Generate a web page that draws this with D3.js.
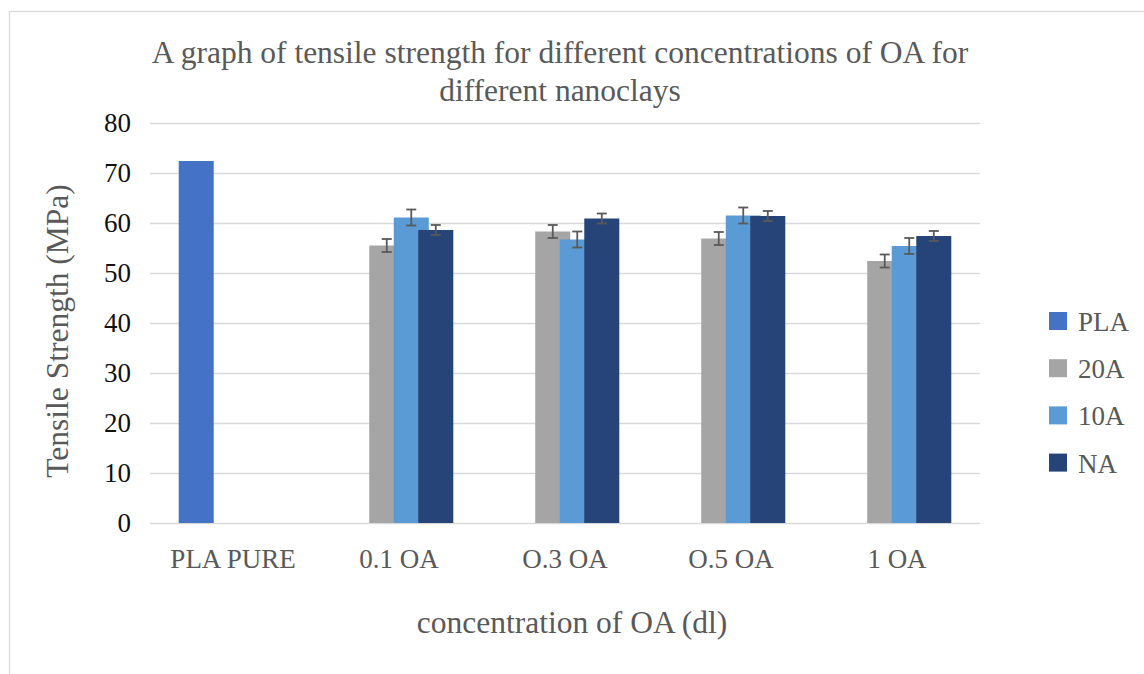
<!DOCTYPE html>
<html>
<head>
<meta charset="utf-8">
<script src="https://cdn.jsdelivr.net/npm/d3@7"></script>
<style>
  html, body { margin: 0; padding: 0; background: #fff; }
  svg { display: block; }
  text { font-family: "Liberation Serif", "Times New Roman", serif; }
</style>
</head>
<body>
<div id="chart"></div>
<script>
// chart values
const categories = ["PLA PURE", "0.1 OA", "O.3 OA", "O.5 OA", "1 OA"];
const seriesNames = ["PLA", "20A", "10A", "NA"];
const plaValues = [72.4, null, null, null, null];
const a20Values = [null, 55.5, 58.3, 56.9, 52.4];
const a10Values = [null, 61.1, 56.7, 61.5, 55.4];
const naValues = [null, 58.6, 60.9, 61.4, 57.4];
const plaErr = [null, null, null, null, null];
const a20Err = [null, 1.3, 1.3, 1.3, 1.3];
const a10Err = [null, 1.6, 1.6, 1.6, 1.6];
const naErr = [null, 1.0, 1.0, 1.0, 1.0];
const yTicks = [0, 10, 20, 30, 40, 50, 60, 70, 80];
const colors = ["#4472C4", "#A5A5A5", "#5B9BD5", "#264478"];

const seriesValues = [plaValues, a20Values, a10Values, naValues];
const seriesErrors = [plaErr, a20Err, a10Err, naErr];

const width = 1144, height = 674;
const plot = {left: 150, right: 980, top: 123, bottom: 523};

const svg = d3.select("#chart").append("svg")
    .attr("width", width)
    .attr("height", height);

// outer frame
svg.append("rect")
    .attr("x", 9.5).attr("y", 11.5)
    .attr("width", 1150).attr("height", 700)
    .attr("fill", "#fff")
    .attr("stroke", "#D9D9D9")
    .attr("stroke-width", 1.3);

const y = d3.scaleLinear().domain([0, 80]).range([plot.bottom, plot.top]);
const x0 = d3.scaleBand().domain(categories).range([plot.left, plot.right]);

// excel style clustered bars with overlap
const barW = x0.bandwidth() * 0.211;
const step = barW * 0.7;
const clusterW = step * (seriesNames.length - 1) + barW;
const x1 = d3.scalePoint().domain(seriesNames).range([0, step * (seriesNames.length - 1)]);
const barX = (cat, s) => x0(cat) + x0.bandwidth() / 2 - clusterW / 2 + x1(s);

// gridlines + y ticks
const yAxis = svg.append("g")
    .attr("transform", "translate(" + plot.left + ",0)")
    .call(d3.axisLeft(y).tickValues(yTicks)
        .tickSizeInner(-(plot.right - plot.left)).tickSizeOuter(0).tickPadding(19));
yAxis.select(".domain").remove();
yAxis.selectAll(".tick line").attr("stroke", "#D9D9D9").attr("stroke-width", 1.4);
yAxis.selectAll(".tick text")
    .attr("fill", "#111")
    .style("font-size", "27px")
    .style("font-family", "'Liberation Serif', 'Times New Roman', serif");

// x labels
const xAxis = svg.append("g")
    .attr("transform", "translate(0," + plot.bottom + ")")
    .call(d3.axisBottom(x0).tickSize(0));
xAxis.select(".domain").remove();
xAxis.selectAll(".tick text")
    .attr("y", 45).attr("dy", null)
    .attr("fill", "#595959")
    .style("font-size", "27px")
    .style("font-family", "'Liberation Serif', 'Times New Roman', serif");

// bars
seriesNames.forEach((s, i) => {
    const rows = categories.map((c, j) => ({cat: c, value: seriesValues[i][j], err: seriesErrors[i][j]}))
        .filter(d => d.value != null);
    svg.append("g").selectAll("rect")
        .data(rows)
        .enter().append("rect")
        .attr("x", d => barX(d.cat, s))
        .attr("y", d => y(d.value))
        .attr("width", barW)
        .attr("height", d => y(0) - y(d.value))
        .attr("fill", colors[i]);
});

// error bars
seriesNames.forEach((s, i) => {
    const rows = categories.map((c, j) => ({cat: c, value: seriesValues[i][j], err: seriesErrors[i][j]}))
        .filter(d => d.value != null && d.err != null);
    const g = svg.append("g").attr("stroke", "#595959").attr("stroke-width", 1.8);
    rows.forEach(d => {
        const cx = barX(d.cat, s) + barW / 2;
        g.append("line").attr("x1", cx).attr("x2", cx)
            .attr("y1", y(d.value + d.err)).attr("y2", y(d.value - d.err));
        g.append("line").attr("x1", cx - 5).attr("x2", cx + 5)
            .attr("y1", y(d.value + d.err)).attr("y2", y(d.value + d.err));
        g.append("line").attr("x1", cx - 5).attr("x2", cx + 5)
            .attr("y1", y(d.value - d.err)).attr("y2", y(d.value - d.err));
    });
});

// title
const title = svg.append("text")
    .attr("text-anchor", "middle")
    .attr("fill", "#595959")
    .style("font-size", "31.5px");
title.append("tspan").attr("x", 560).attr("y", 63)
    .text("A graph of tensile strength for different concentrations of OA for");
title.append("tspan").attr("x", 560).attr("y", 101)
    .text("different nanoclays");

// axis titles
svg.append("text")
    .attr("x", 572).attr("y", 633)
    .attr("text-anchor", "middle")
    .attr("fill", "#595959")
    .style("font-size", "31.5px")
    .text("concentration of OA (dl)");

svg.append("text")
    .attr("transform", "translate(68,331) rotate(-90)")
    .attr("text-anchor", "middle")
    .attr("fill", "#595959")
    .style("font-size", "31.5px")
    .text("Tensile Strength (MPa)");

// legend
const legend = svg.selectAll(".legend")
    .data(seriesNames)
    .enter().append("g")
    .attr("class", "legend")
    .attr("transform", (d, i) => "translate(1049," + (321 + i * 47.2) + ")");
legend.append("rect")
    .attr("x", 0).attr("y", -9)
    .attr("width", 18).attr("height", 18)
    .attr("fill", (d, i) => colors[i]);
legend.append("text")
    .attr("x", 29).attr("y", 10)
    .attr("fill", "#595959")
    .style("font-size", "27px")
    .text(d => d);
</script>
</body>
</html>
